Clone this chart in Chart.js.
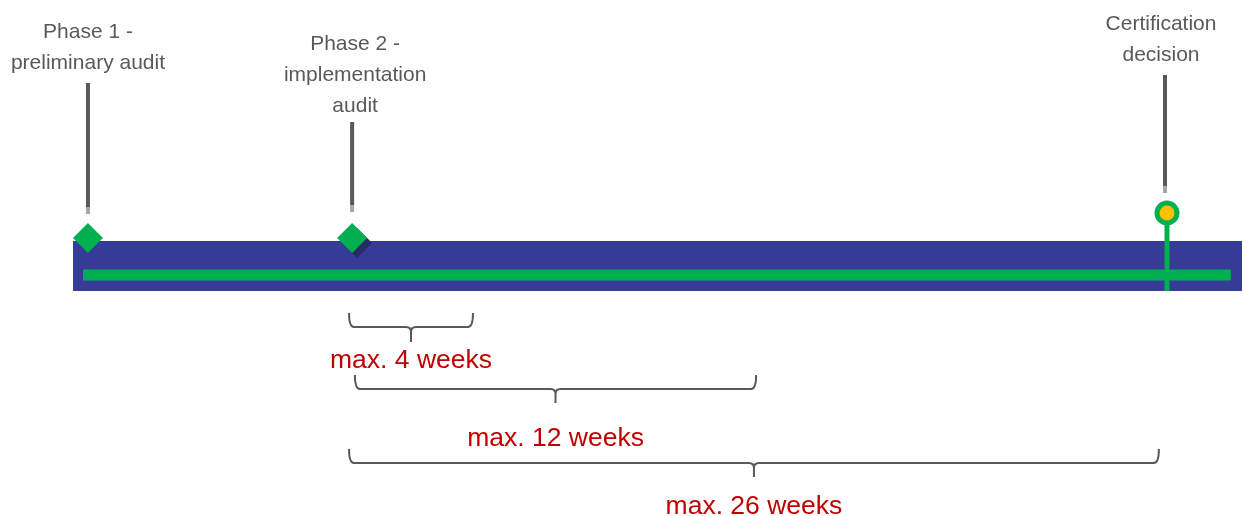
<!DOCTYPE html>
<html lang="en">
<head>
    <meta charset="UTF-8">
    <title>Certification Timeline</title>
    <script src="https://cdn.jsdelivr.net/npm/chart.js"></script>
    <style>
        html, body { margin: 0; padding: 0; background: #ffffff; overflow: hidden; }
        #timeline { display: block; }
    </style>
</head>
<body>
    <canvas id="timeline" width="1242" height="516"></canvas>

    <script>
        // timeline data, x in weeks (week 0 = start of phase 2)
        const milestoneLabels = [
            ['Phase 1 -', 'preliminary audit'],
            ['Phase 2 -', 'implementation', 'audit'],
            ['Certification', 'decision']
        ];
        const milestoneWeeks = [-8.38, 0.1, 26.26];
        const timelineBand = [-8.86, 28.67];
        const timelineLine = [-8.54, 28.31];

        const braceLabels = ['max. 4 weeks', 'max. 12 weeks', 'max. 26 weeks'];
        const braceStart = [0, 0.19, 0];
        const braceEnd = [3.98, 13.07, 26.0];

        // vertical layout (y scale runs top->down, 0..516)
        const bandY = 266;
        const lineY = 275;
        const markerY = [238, 238, 213];
        const leaderTop = [83, 122, 75];
        const leaderBottom = [214, 212, 193];
        const labelBaseline = [[38, 69], [50, 81, 112], [30, 61]];
        const braceTop = [313, 375, 449];
        const braceLineY = [327, 389, 463];
        const braceTip = [342, 403, 477];
        const braceLabelY = [368, 446, 514];
        // small pixel nudges of leaders / labels against their marker
        const leaderShift = [0, 0, -2];
        const labelShift = [0, 3, -6];

        const grey = '#595959';
        const red = '#c00000';
        const blue = '#353b97';
        const green = '#00b050';
        const yellow = '#ffc000';

        const diamonds = milestoneWeeks.slice(0, 2).map((w, i) => ({ x: w, y: markerY[i] }));
        const decision = { x: milestoneWeeks[2], y: markerY[2] };

        const overlay = {
            id: 'overlay',
            beforeDatasetDraw(chart, args) {
                // shadow under the phase 2 diamond
                if (args.index !== 4) return;
                const x = chart.scales.x, y = chart.scales.y, ctx = chart.ctx;
                const px = x.getPixelForValue(milestoneWeeks[1]) + 5;
                const py = y.getPixelForValue(markerY[1]) + 5;
                ctx.save();
                ctx.fillStyle = '#2a2b66';
                ctx.beginPath();
                ctx.moveTo(px - 15, py);
                ctx.lineTo(px, py - 15);
                ctx.lineTo(px + 15, py);
                ctx.lineTo(px, py + 15);
                ctx.closePath();
                ctx.fill();
                ctx.restore();
            },
            afterDatasetsDraw(chart) {
                const x = chart.scales.x, y = chart.scales.y, ctx = chart.ctx;
                ctx.save();

                // leader lines and milestone labels
                ctx.font = '21px "Liberation Sans", Arial, sans-serif';
                ctx.textAlign = 'center';
                ctx.textBaseline = 'alphabetic';
                milestoneWeeks.forEach((w, i) => {
                    const px = x.getPixelForValue(w) + leaderShift[i];
                    const top = y.getPixelForValue(leaderTop[i]);
                    const bottom = y.getPixelForValue(leaderBottom[i]);
                    ctx.lineWidth = 4;
                    ctx.strokeStyle = grey;
                    ctx.beginPath();
                    ctx.moveTo(px, top);
                    ctx.lineTo(px, bottom - 7);
                    ctx.stroke();
                    ctx.strokeStyle = '#a6a6a6';
                    ctx.beginPath();
                    ctx.moveTo(px, bottom - 7);
                    ctx.lineTo(px, bottom);
                    ctx.stroke();

                    ctx.fillStyle = grey;
                    const lx = x.getPixelForValue(w) + labelShift[i];
                    milestoneLabels[i].forEach((t, j) => {
                        ctx.fillText(t, lx, y.getPixelForValue(labelBaseline[i][j]));
                    });
                });

                // braces
                ctx.strokeStyle = grey;
                ctx.lineWidth = 2;
                ctx.lineJoin = 'round';
                const r = 5;
                braceLabels.forEach((label, i) => {
                    const x0 = x.getPixelForValue(braceStart[i]);
                    const x1 = x.getPixelForValue(braceEnd[i]);
                    const xc = (x0 + x1) / 2;
                    const top = y.getPixelForValue(braceTop[i]);
                    const ly = y.getPixelForValue(braceLineY[i]);
                    const tip = y.getPixelForValue(braceTip[i]);
                    ctx.beginPath();
                    ctx.moveTo(x0, top);
                    ctx.quadraticCurveTo(x0, ly, x0 + r, ly);
                    ctx.lineTo(xc - r, ly);
                    ctx.quadraticCurveTo(xc, ly, xc, ly + r);
                    ctx.lineTo(xc, tip);
                    ctx.moveTo(xc, ly + r);
                    ctx.quadraticCurveTo(xc, ly, xc + r, ly);
                    ctx.lineTo(x1 - r, ly);
                    ctx.quadraticCurveTo(x1, ly, x1, top);
                    ctx.stroke();

                    ctx.fillStyle = red;
                    ctx.font = '26.5px "Liberation Sans", Arial, sans-serif';
                    ctx.fillText(label, xc, y.getPixelForValue(braceLabelY[i]));
                });

                ctx.restore();
            }
        };

        const ctx = document.getElementById('timeline').getContext('2d');
        const timelineChart = new Chart(ctx, {
            type: 'line',
            data: {
                datasets: [
                    {
                        // blue band
                        data: timelineBand.map(w => ({ x: w, y: bandY })),
                        borderColor: blue,
                        borderWidth: 50,
                        pointRadius: 0,
                        order: 5
                    },
                    {
                        // green timeline
                        data: timelineLine.map(w => ({ x: w, y: lineY })),
                        borderColor: green,
                        borderWidth: 11,
                        pointRadius: 0,
                        order: 4
                    },
                    {
                        // stem of the decision marker
                        data: [{ x: decision.x, y: decision.y }, { x: decision.x, y: 291 }],
                        borderColor: green,
                        borderWidth: 5,
                        pointRadius: 0,
                        order: 3
                    },
                    {
                        // decision marker
                        data: [decision],
                        showLine: false,
                        pointStyle: 'circle',
                        pointRadius: 10,
                        pointBorderWidth: 5,
                        pointBackgroundColor: yellow,
                        pointBorderColor: green,
                        order: 2
                    },
                    {
                        // audit diamonds
                        data: diamonds,
                        showLine: false,
                        pointStyle: 'rectRot',
                        pointRadius: 15,
                        pointBorderWidth: 0,
                        pointBackgroundColor: green,
                        pointBorderColor: green,
                        order: 1
                    }
                ]
            },
            options: {
                responsive: false,
                animation: false,
                devicePixelRatio: 1,
                layout: { padding: 0, autoPadding: false },
                plugins: {
                    legend: { display: false },
                    tooltip: { enabled: false }
                },
                scales: {
                    x: {
                        type: 'linear',
                        min: -11.204,
                        max: 28.668,
                        display: false
                    },
                    y: {
                        type: 'linear',
                        min: 0,
                        max: 516,
                        reverse: true,
                        display: false
                    }
                }
            },
            plugins: [overlay]
        });
    </script>
</body>
</html>
